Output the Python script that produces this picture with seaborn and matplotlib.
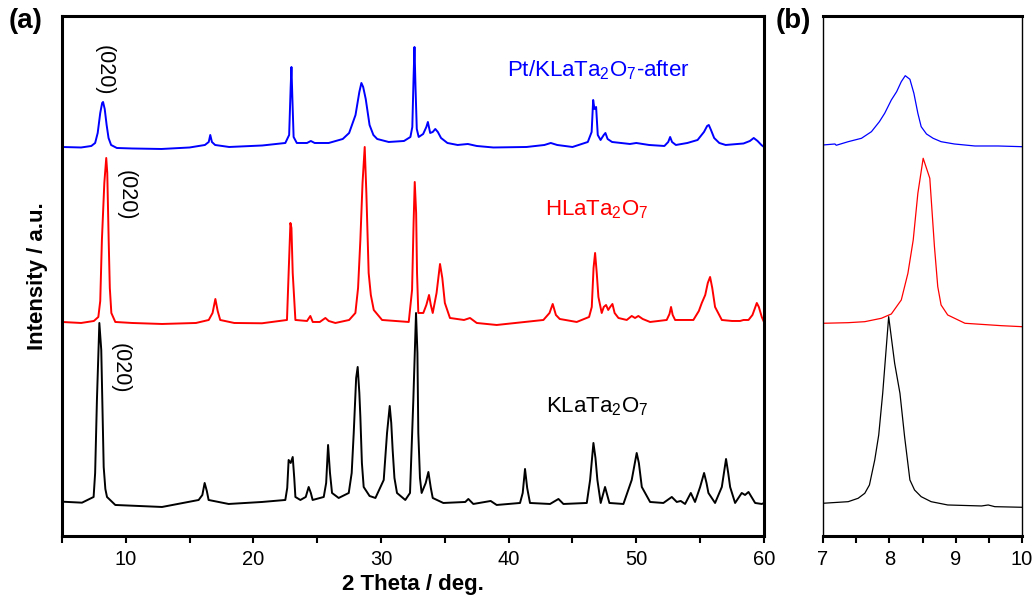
import numpy as np
import pandas as pd
import seaborn as sns
import matplotlib.pyplot as plt
from matplotlib.ticker import MultipleLocator

# (2 theta, intensity above own baseline), panel (a)
pt_after = [
    (5.0, 0), (6.5, -0.5), (7.3, 1), (7.6, 4), (7.8, 14), (8.0, 34), (8.15, 44),
    (8.22, 45), (8.35, 38), (8.5, 22), (8.65, 9), (8.85, 2), (9.3, -1), (10.5, -1.5),
    (12.8, -2), (15.0, -0.5), (16.2, 2), (16.5, 5), (16.62, 12), (16.75, 5), (17.0, 2),
    (18.1, 0), (20.7, 1.5), (22.5, 4), (22.8, 12), (22.92, 60), (22.98, 80), (23.05, 50),
    (23.15, 10), (23.4, 4), (24.2, 4), (24.5, 6), (24.8, 4), (25.9, 4), (27.0, 8),
    (27.5, 14), (28.0, 32), (28.3, 55), (28.46, 64), (28.6, 60), (28.8, 48), (29.1, 22),
    (29.4, 12), (29.7, 8), (30.6, 5), (31.8, 6), (32.3, 10), (32.45, 20), (32.55, 70),
    (32.62, 100), (32.7, 60), (32.8, 18), (32.95, 10), (33.3, 13), (33.55, 20),
    (33.67, 25), (33.85, 14), (34.05, 15), (34.25, 18), (34.45, 15), (34.7, 9),
    (35.2, 4), (36.0, 2), (36.8, 3), (37.5, 1), (38.8, -0.5), (41.4, 0), (42.8, 2),
    (43.3, 4), (43.8, 2), (45.0, 0), (46.2, 5), (46.5, 15), (46.62, 47), (46.72, 38),
    (46.85, 40), (46.98, 12), (47.2, 7), (47.45, 12), (47.58, 14), (47.75, 8), (48.1, 5),
    (49.5, 3), (50.0, 4), (51.0, 2), (52.2, 1), (52.5, 5), (52.65, 10), (52.8, 5),
    (53.1, 2), (54.0, 4), (54.8, 7), (55.3, 15), (55.55, 21), (55.68, 22), (55.85, 17),
    (56.1, 9), (56.5, 4), (57.0, 2), (58.4, 3.5), (58.9, 6), (59.2, 9), (59.5, 6),
    (59.8, 2), (60.0, 0),
]

hlata = [
    (5.0, 1), (6.5, 0), (7.5, 2), (7.85, 6), (8.0, 22), (8.13, 83), (8.32, 140),
    (8.47, 165), (8.55, 150), (8.66, 83), (8.75, 35), (8.87, 10), (9.18, 1), (10.5, 0),
    (12.84, -1), (15.5, 0), (16.5, 3), (16.8, 10), (17.02, 24), (17.2, 12), (17.4, 3),
    (18.5, 0), (20.67, -0.3), (22.63, 3), (22.76, 50), (22.9, 100), (22.98, 95),
    (23.08, 50), (23.29, 3), (24.2, 2), (24.46, 7), (24.65, 1), (25.2, 1), (25.64, 5),
    (25.9, 2), (26.42, 0), (27.5, 3), (27.99, 10), (28.2, 35), (28.38, 83), (28.55, 140),
    (28.72, 176), (28.85, 130), (29.03, 50), (29.2, 28), (29.43, 13), (30.08, 3),
    (32.17, 1), (32.43, 33), (32.55, 100), (32.64, 141), (32.75, 110), (32.82, 50),
    (32.92, 10), (33.31, 10), (33.55, 18), (33.76, 28), (33.9, 18), (34.05, 10),
    (34.35, 30), (34.62, 59), (34.8, 45), (35.0, 20), (35.4, 5), (36.5, 3), (36.97, 5),
    (37.5, 0), (39.06, -2), (42.72, 3), (43.2, 10), (43.45, 19), (43.7, 8), (44.0, 4),
    (45.33, 1), (46.3, 6), (46.51, 16), (46.65, 55), (46.77, 70), (46.9, 50), (47.03, 26),
    (47.29, 10), (47.45, 16), (47.63, 18), (47.8, 13), (47.95, 16), (48.13, 19),
    (48.3, 10), (48.6, 5), (49.25, 3), (49.64, 7), (49.9, 5), (50.16, 7), (50.5, 4),
    (51.08, 1), (52.38, 3), (52.6, 9), (52.72, 16), (52.85, 8), (53.04, 3), (54.47, 3),
    (54.9, 12), (55.13, 20), (55.4, 28), (55.6, 40), (55.78, 46), (55.95, 35),
    (56.17, 16), (56.7, 3), (57.5, 2), (58.13, 2), (58.4, 3), (58.79, 3), (59.1, 8),
    (59.44, 20), (59.6, 16), (59.83, 6), (60.0, 1),
]

klata = [
    (5.0, 1.3), (6.57, 0.3), (7.48, 6), (7.6, 30), (7.74, 103), (7.93, 180), (8.08, 153),
    (8.27, 36), (8.4, 14), (8.53, 6), (9.18, -2), (12.84, -4), (15.71, 3), (16.0, 8),
    (16.18, 20), (16.35, 12), (16.49, 3), (18.06, -1), (20.67, 1), (22.5, 3), (22.65, 15),
    (22.76, 43), (22.92, 40), (23.08, 46), (23.2, 25), (23.29, 6), (23.68, 3), (24.1, 6),
    (24.33, 16), (24.5, 10), (24.64, 3), (25.51, 6), (25.7, 20), (25.85, 58), (26.0, 30),
    (26.16, 10), (26.68, 5), (27.47, 10), (27.7, 30), (27.86, 70), (28.05, 125),
    (28.17, 136), (28.3, 110), (28.38, 86), (28.5, 40), (28.64, 16), (29.1, 7),
    (29.56, 5), (30.21, 23), (30.47, 70), (30.68, 97), (30.8, 80), (30.91, 53),
    (31.05, 25), (31.25, 10), (31.9, 3), (32.27, 10), (32.53, 103), (32.74, 190),
    (32.85, 150), (32.92, 70), (33.05, 25), (33.18, 10), (33.5, 20), (33.71, 31),
    (33.9, 15), (34.05, 5), (34.88, 0), (36.6, 1), (36.84, 4), (37.23, -1), (38.59, 2),
    (39.06, -2), (40.89, 0), (41.1, 10), (41.28, 34), (41.45, 15), (41.67, 0),
    (43.24, -1), (43.9, 4), (44.29, -1), (46.12, 0), (46.38, 23), (46.64, 60), (46.8, 45),
    (46.95, 23), (47.21, 0), (47.55, 16), (47.89, 0), (48.99, -1), (49.64, 23),
    (50.03, 50), (50.2, 40), (50.43, 16), (51.08, 1), (52.12, 0), (52.78, 6), (53.17, 1),
    (53.48, 2), (53.82, -1), (54.27, 10), (54.6, 1), (55.0, 16), (55.31, 30), (55.5, 20),
    (55.65, 10), (56.17, 0), (56.7, 16), (57.03, 44), (57.2, 30), (57.35, 16), (57.74, 0),
    (58.26, 10), (58.52, 8), (58.79, 11), (59.31, 0), (59.83, -1), (60.0, 0),
]

# (020) region, panel (b)
pt_after_020 = [
    (7.0, 1), (7.18, 2), (7.2, 0.7), (7.38, 4.3), (7.58, 7.7), (7.73, 14.3), (7.85, 24.3),
    (7.93, 32.7), (8.03, 46), (8.11, 54.3), (8.18, 64.3), (8.24, 70.3), (8.31, 66.7),
    (8.37, 52.7), (8.43, 32.7), (8.48, 19.3), (8.56, 12), (8.66, 7.7), (8.78, 4.3),
    (8.98, 2), (9.29, 0), (9.64, 0), (10.0, -0.7),
]
hlata_020 = [
    (7.0, 1.7), (7.38, 2.3), (7.63, 3.3), (7.88, 6.7), (8.03, 11), (8.18, 25), (8.28, 51.7),
    (8.36, 85), (8.43, 131.7), (8.51, 166.7), (8.61, 146.7), (8.68, 78.3), (8.73, 38.3),
    (8.78, 20), (8.88, 10), (9.14, 1.7), (9.69, -0.7), (10.0, -1.7),
]
klata_020 = [
    (7.0, 1.7), (7.38, 3.3), (7.53, 6.7), (7.63, 11.7), (7.70, 20), (7.78, 45), (7.84, 70),
    (7.90, 111.7), (7.99, 188.3), (8.08, 141.7), (8.16, 111.7), (8.23, 68.3), (8.31, 25),
    (8.38, 15), (8.48, 8.3), (8.63, 3.3), (8.88, 0), (9.39, -1), (9.49, 0), (9.59, -1.7),
    (10.0, -2.3),
]

sample_labels = [
    r"Pt/KLaTa$_\mathregular{2}$O$_\mathregular{7}$-after",
    r"HLaTa$_\mathregular{2}$O$_\mathregular{7}$",
    r"KLaTa$_\mathregular{2}$O$_\mathregular{7}$",
]


def _trace(ax, pts, offset, color, lw):
    df = pd.DataFrame(pts, columns=["two_theta", "intensity"])
    df["intensity"] = df["intensity"] + offset
    sns.lineplot(data=df, x="two_theta", y="intensity", color=color,
                 linewidth=lw, estimator=None, sort=False, ax=ax)


def _frame(ax, lw_lr, lw_tb):
    for side in ["left", "right"]:
        ax.spines[side].set_visible(True)
        ax.spines[side].set_linewidth(lw_lr)
        ax.spines[side].set_color("black")
    for side in ["top", "bottom"]:
        ax.spines[side].set_visible(True)
        ax.spines[side].set_linewidth(lw_tb)
        ax.spines[side].set_color("black")
    ax.set_yticks([])
    ax.set_ylabel("")
    ax.tick_params(axis="x", which="both", direction="out", length=5, width=1.5,
                   labelsize=14.5, pad=5, colors="black")


def main():
    sns.set_theme(style="ticks")
    plt.rcParams["font.family"] = ["Liberation Sans", "DejaVu Sans"]
    plt.rcParams["mathtext.fontset"] = "custom"
    plt.rcParams["mathtext.rm"] = "Liberation Sans"
    plt.rcParams["text.color"] = "black"
    plt.rcParams["axes.labelcolor"] = "black"

    fig = plt.figure(figsize=(10.36, 6.01), dpi=100)
    ax_a = fig.add_axes([0.0598, 0.1082, 0.6776, 0.8652])
    ax_b = fig.add_axes([0.7944, 0.1082, 0.1921, 0.8652])

    colors = ["#0000ff", "#ff0000", "#000000"]

    # Panel (a)
    offsets_a = [389, 213, 33]
    for pts, off, c in zip([pt_after, hlata, klata], offsets_a, colors):
        _trace(ax_a, pts, off, c, 1.4)
    ax_a.set_xlim(5, 60)
    ax_a.set_ylim(0, 520)
    ax_a.xaxis.set_major_locator(MultipleLocator(10))
    ax_a.xaxis.set_minor_locator(MultipleLocator(5))
    _frame(ax_a, 2.2, 2.2)
    ax_a.set_xlabel("2 Theta / deg.", fontsize=16, fontweight="bold", labelpad=4)
    ax_a.set_ylabel("Intensity / a.u.", fontsize=16, fontweight="bold", labelpad=10)

    ax_a.text(8.29, 466, "(020)", rotation=270, ha="center", va="center", fontsize=15.5)
    ax_a.text(10.0, 341, "(020)", rotation=270, ha="center", va="center", fontsize=15.5)
    ax_a.text(9.55, 168, "(020)", rotation=270, ha="center", va="center", fontsize=15.5)

    label_pos = [(47.0, 466), (46.9, 326), (46.9, 129)]
    for (x, y), txt, c in zip(label_pos, sample_labels, colors):
        ax_a.text(x, y, txt, color=c, ha="center", va="center", fontsize=16)

    # Panel (b)
    offsets_b = [390, 211, 31]
    for pts, off, c in zip([pt_after_020, hlata_020, klata_020], offsets_b, colors):
        _trace(ax_b, pts, off, c, 0.9)
    ax_b.set_xlim(7, 10)
    ax_b.set_ylim(0, 520)
    ax_b.xaxis.set_major_locator(MultipleLocator(1))
    ax_b.xaxis.set_minor_locator(MultipleLocator(0.5))
    _frame(ax_b, 1.0, 2.2)
    ax_b.set_xlabel("")

    fig.text(0.008, 0.965, "(a)", fontsize=20, fontweight="bold", va="center", ha="left")
    fig.text(0.749, 0.965, "(b)", fontsize=20, fontweight="bold", va="center", ha="left")

    fig.savefig("out.png", dpi=100)
    plt.close()


if __name__ == "__main__":
    main()
